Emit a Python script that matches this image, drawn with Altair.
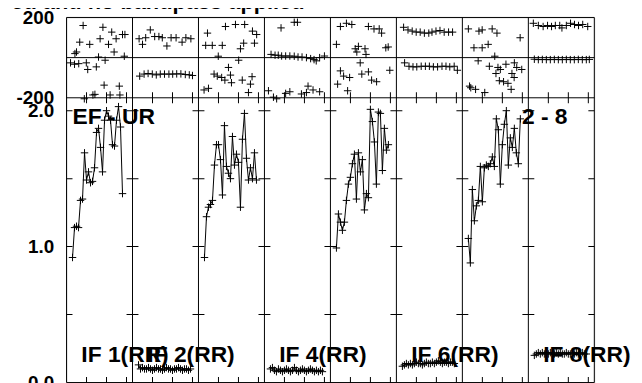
import altair as alt
import pandas as pd

# ---------------- texts ----------------
TITLE = "ed and no bandpass applied"
BASELINE_LEFT = "EF - UR"
BASELINE_RIGHT = "2 - 8"
IF_NAMES = ["IF 1(RR)", "IF 2(RR)", "IF 3(RR)", "IF 4(RR)",
            "IF 5(RR)", "IF 6(RR)", "IF 7(RR)", "IF 8(RR)"]
LABELLED_IFS = [1, 2, 4, 6, 8]

# ---------------- amplitude data (channel, amplitude) ----------------
CH_IF1 = list(range(3, 29))
AMP_IF1 = [0.92, 1.14, 1.15, 1.14, 1.34, 1.35, 1.69, 1.49, 1.55, 1.47, 1.48, 1.58, 1.84,
           1.87, 1.73, 1.55, 1.93, 2.00, 1.96, 1.93, 1.75, 1.74, 1.93, 2.03, 1.88, 1.39]
CH_STD = list(range(3, 30))
AMP_IF2 = [0.13, 0.10, 0.11, 0.10, 0.10, 0.11, 0.10, 0.09, 0.10, 0.11, 0.10, 0.10, 0.09, 0.10,
           0.11, 0.10, 0.10, 0.09, 0.10, 0.10, 0.11, 0.10, 0.09, 0.10, 0.10, 0.09, 0.10]
AMP_IF3 = [0.92, 1.22, 1.29, 1.31, 1.34, 1.60, 1.75, 1.75, 1.64, 1.38, 1.89, 1.59, 1.54, 1.50,
           1.81, 1.60, 1.68, 1.62, 1.29, 1.79, 1.98, 1.65, 1.49, 1.58, 1.50, 1.69, 1.49]
AMP_IF4 = [0.10, 0.11, 0.09, 0.08, 0.10, 0.09, 0.08, 0.09, 0.10, 0.09, 0.08, 0.09, 0.11, 0.09,
           0.08, 0.09, 0.10, 0.09, 0.08, 0.09, 0.10, 0.09, 0.08, 0.09, 0.08, 0.09, 0.08]
AMP_IF5 = [0.99, 1.24, 1.18, 1.12, 1.18, 1.34, 1.46, 1.51, 1.61, 1.68, 1.35, 1.69, 1.55, 1.64,
           1.27, 1.39, 1.36, 2.01, 1.92, 1.77, 1.46, 1.99, 1.98, 1.56, 1.87, 1.71, 1.75]
AMP_IF6 = [0.12, 0.13, 0.14, 0.13, 0.14, 0.13, 0.14, 0.15, 0.14, 0.14, 0.13, 0.14, 0.15, 0.14,
           0.14, 0.15, 0.14, 0.15, 0.16, 0.15, 0.14, 0.15, 0.15, 0.14, 0.15, 0.15, 0.14]
AMP_IF7 = [1.06, 0.88, 1.42, 1.19, 1.30, 1.34, 1.59, 1.33, 1.58, 1.60, 1.59, 1.61, 1.66, 1.59,
           1.94, 1.86, 1.46, 1.75, 1.90, 2.00, 1.60, 1.80, 1.73, 1.87, 1.69, 1.61, 1.94]
AMP_IF8 = [0.20, 0.21, 0.22, 0.21, 0.22, 0.21, 0.22, 0.21, 0.22, 0.21, 0.21, 0.22, 0.21, 0.22,
           0.21, 0.21, 0.22, 0.21, 0.21, 0.22, 0.21, 0.22, 0.21, 0.21, 0.22, 0.21, 0.21]

# ---------------- phase data (channel, degrees) ----------------
PH_CH_IF1 = [8.3, 18.2, 22.6, 28.0, 29.2, 6.6, 11.6, 16.8, 21.0, 24.8, 5.0, 4.2, 16.0, 23.8, 28.9,
             2.0, 4.0, 6.1, 9.9, 10.6, 14.9, 19.3, 18.8, 26.4, 13.2, 14.2, 8.9, 21.8, 26.7]
PH_IF1 = [160, 151, 127, 115, 115, 77, 66, 94, 66, 94, 28, 20, 3, 28, 7,
          -26, -33, -30, -26, -59, -46, -13, -137, -142, -186, -183, -205, -186, -186]
PH_CH_IF2 = [3.3, 5.0, 6.6, 8.9, 11.1, 13.2, 14.9, 17.2, 19.3, 21.8, 24.8, 26.7, 29.2,
             3.6, 5.8, 7.8, 9.9, 11.9, 13.9, 16.0, 18.2, 20.1, 22.1, 24.2, 26.4, 28.4, 30.0]
PH_IF2 = [94, 66, 99, 138, 105, 105, 99, 58, 99, 99, 77, 99, 94,
          -92, -82, -79, -82, -86, -82, -82, -82, -82, -81, -81, -84, -86, -89]
PH_CH_IF3 = [4.5, 13.5, 18.5, 23.1, 27.0, 29.1, 3.6, 6.9, 11.9, 22.6, 28.0, 21.0, 9.9, 20.1,
             15.0, 7.8, 9.4, 11.6, 13.2, 16.0, 16.5, 21.9, 26.0, 26.8, 25.0, 2.8, 5.0]
PH_IF3 = [122, 155, 165, 165, 132, 115, 61, 61, 61, 72, 72, 44, 7, -13,
          -49, -82, -92, -99, -112, -87, -125, -112, -132, -95, -174, -161, -153]
PH_CH_IF4 = [8.3, 14.9, 16.5,
             3.3, 5.3, 6.9, 8.6, 10.6, 12.7, 14.9, 16.8, 18.8, 21.0, 23.1, 24.8, 25.9, 27.6, 30.0,
             2.0, 4.5, 6.1, 10.6, 12.7, 18.5, 21.0, 21.8, 24.3, 27.6]
PH_IF4 = [148, 176, 176,
          16, 12, 12, 8, 8, 8, 7, 3, 3, 0, -5, -10, -16, 0, 8,
          -165, -197, -205, -178, -170, -181, -174, -142, -161, -170]
PH_CH_IF5 = [5.0, 8.0, 10.7, 19.0, 21.8, 24.4, 25.6, 3.0, 12.4, 14.0, 17.3, 13.2, 17.8,
             27.7, 28.9, 14.9, 5.0, 6.6, 9.6, 15.7, 19.0, 20.6, 23.1, 29.7, 3.6, 8.6]
PH_IF5 = [155, 171, 165, 155, 143, 143, 122, 66, 44, 56, 44, 28, 16,
          49, 53, -26, -66, -92, -99, -82, -71, -112, -120, -63, -132, -165]
PH_CH_IF6 = [3.6, 5.8, 7.9, 9.9, 11.9, 14.0, 16.2, 17.8, 19.8, 21.8, 23.9, 26.1, 28.1,
             4.1, 6.3, 8.3, 10.2, 12.4, 14.5, 16.5, 18.5, 20.6, 22.8, 24.8, 26.7, 28.9, 30.5]
PH_IF6 = [151, 138, 132, 127, 127, 122, 122, 127, 132, 135, 127, 127, 127,
          -26, -43, -46, -46, -43, -43, -43, -46, -46, -43, -43, -46, -43, -63]
PH_CH_IF7 = [3.0, 8.3, 9.9, 14.9, 17.3, 28.9, 5.8, 9.9, 12.9, 16.2, 7.9, 13.5, 17.8, 21.8, 16.8,
             19.0, 26.0, 27.2, 29.7, 24.8, 25.9, 3.6, 4.2, 18.5, 20.6, 22.8, 24.4, 6.6, 11.2]
PH_IF7 = [143, 132, 138, 143, 122, 99, 49, 49, 66, 7, -16, -43, -49, -33, -79,
          -59, -26, -49, -59, -79, -99, -142, -150, -115, -120, -128, -158, -158, -174]
PH_CH_IF8 = [2.5, 5.0, 7.4, 9.6, 11.6, 13.5, 15.7, 16.8, 19.0, 21.1, 23.1, 25.1, 27.2, 29.7,
             3.0, 5.0, 7.0, 9.0, 11.0, 13.0, 15.0, 17.0, 19.0, 21.0, 23.0, 25.0, 27.0, 29.0, 30.5]
PH_IF8 = [171, 160, 155, 160, 155, 160, 160, 148, 160, 171, 165, 160, 165, 155,
          -8, -10, -9, -10, -10, -9, -10, -10, -9, -10, -10, -9, -10, -10, -9]

# ---------------- axis / tick values ----------------
AMP_TICK_VALUES = [0.5, 1.0, 1.5, 2.0]
CHANNEL_TICK_VALUES = [10, 20, 30]
PHASE_LIMIT = 200

# ---------------- layout constants ----------------
N_IF = 8
PANEL_CH = 33           # channel span of one panel
AMP_TOP = 2.095         # top of the amplitude strip
PH_SPAN = 0.591         # height of the phase strip in amplitude units
Y_TOP = AMP_TOP + PH_SPAN
FONT = "Liberation Sans"

amp_sets = [(CH_IF1, AMP_IF1), (CH_STD, AMP_IF2), (CH_STD, AMP_IF3), (CH_STD, AMP_IF4),
            (CH_STD, AMP_IF5), (CH_STD, AMP_IF6), (CH_STD, AMP_IF7), (CH_STD, AMP_IF8)]
ph_sets = [(PH_CH_IF1, PH_IF1), (PH_CH_IF2, PH_IF2), (PH_CH_IF3, PH_IF3), (PH_CH_IF4, PH_IF4),
           (PH_CH_IF5, PH_IF5), (PH_CH_IF6, PH_IF6), (PH_CH_IF7, PH_IF7), (PH_CH_IF8, PH_IF8)]

amp_rows, ph_rows = [], []
for i, (chs, vals) in enumerate(amp_sets):
    for c, v in zip(chs, vals):
        amp_rows.append({"ifn": i + 1, "ch": c, "amp": v})
for i, (chs, vals) in enumerate(ph_sets):
    for c, v in zip(chs, vals):
        ph_rows.append({"ifn": i + 1, "ch": c, "ph": v})
amp_df = pd.DataFrame(amp_rows)
ph_df = pd.DataFrame(ph_rows)

X_EXPR = f"(datum.ifn - 1) * {PANEL_CH} + datum.ch"
PH_EXPR = f"{AMP_TOP} + (datum.ph + {PHASE_LIMIT}) / {2 * PHASE_LIMIT} * {PH_SPAN}"

xscale = alt.Scale(domain=[0, N_IF * PANEL_CH], nice=False, zero=False)
yscale = alt.Scale(domain=[0, Y_TOP], nice=False, zero=False)
yaxis = alt.Axis(
    values=[0, 1, 2, AMP_TOP, Y_TOP],
    labelExpr=f"datum.value > 2.5 ? '{PHASE_LIMIT}' : (datum.value > 2.05 ? '-{PHASE_LIMIT}' : format(datum.value, '.1f'))",
    domain=False, ticks=False, grid=False, title=None,
    labelFont=FONT, labelFontWeight="bold", labelFontSize=19, labelColor="black",
    labelPadding=13, labelOverlap=False, labelFlush=False, labelBound=False,
)


def X(field="xpos"):
    return alt.X(f"{field}:Q", scale=xscale, axis=None)


def Y(field="ypos"):
    return alt.Y(f"{field}:Q", scale=yscale, axis=yaxis)


PLUS = "M-1,0L1,0M0,-1L0,1"

amp_line = alt.Chart(amp_df).transform_calculate(xpos=X_EXPR, ypos="datum.amp").mark_line(
    color="black", strokeWidth=1).encode(x=X(), y=Y(), detail="ifn:N")
amp_pts = alt.Chart(amp_df).transform_calculate(xpos=X_EXPR, ypos="datum.amp").mark_point(
    shape=PLUS, size=56, filled=False, color="black", strokeWidth=1, opacity=1).encode(x=X(), y=Y())
ph_pts = alt.Chart(ph_df).transform_calculate(xpos=X_EXPR, ypos=PH_EXPR).mark_point(
    shape=PLUS, size=56, filled=False, color="black", strokeWidth=1, opacity=1).encode(x=X(), y=Y())

borders_df = pd.DataFrame({"xpos": [k * PANEL_CH for k in range(N_IF + 1)]})
vlines = alt.Chart(borders_df).mark_rule(color="black", strokeWidth=1).encode(x=X())

hlines_df = pd.DataFrame({"ypos": [0, AMP_TOP, AMP_TOP + PH_SPAN / 2, Y_TOP]})
hlines = alt.Chart(hlines_df).mark_rule(color="black", strokeWidth=1).encode(y=Y())

amp_tick_df = pd.DataFrame([{"xpos": k * PANEL_CH, "ypos": t}
                            for k in range(N_IF + 1) for t in AMP_TICK_VALUES])
amp_ticks = alt.Chart(amp_tick_df).mark_tick(
    orient="horizontal", size=12, thickness=1, color="black", clip=True, opacity=1
).encode(x=X(), y=Y())

ch_tick_df = pd.DataFrame([{"xpos": p * PANEL_CH + c, "ypos": yv}
                           for p in range(N_IF) for c in CHANNEL_TICK_VALUES for yv in [0, AMP_TOP]])
ch_ticks = alt.Chart(ch_tick_df).mark_tick(
    orient="vertical", size=11, thickness=1, color="black", clip=True, opacity=1
).encode(x=X(), y=Y())

lab_df = pd.DataFrame({"ifn": LABELLED_IFS, "txt": [IF_NAMES[i - 1] for i in LABELLED_IFS]})
if_labels = alt.Chart(lab_df).transform_calculate(
    xpos=f"(datum.ifn - 1) * {PANEL_CH} + 7.4", ypos="0.153"
).mark_text(align="left", baseline="alphabetic", font=FONT, fontWeight="bold",
            fontSize=23, color="black").encode(x=X(), y=Y(), text="txt:N")

bl_left = alt.Chart(pd.DataFrame({"t": [BASELINE_LEFT]})).transform_calculate(
    xpos="3.0", ypos="1.905"
).mark_text(align="left", baseline="alphabetic", font=FONT, fontWeight="bold",
            fontSize=23, color="black").encode(x=X(), y=Y(), text="t:N")
bl_right = alt.Chart(pd.DataFrame({"t": [BASELINE_RIGHT]})).transform_calculate(
    xpos="250.6", ypos="1.905"
).mark_text(align="right", baseline="alphabetic", font=FONT, fontWeight="bold",
            fontSize=23, color="black").encode(x=X(), y=Y(), text="t:N")

title = alt.Chart(pd.DataFrame({"t": [TITLE]})).mark_text(
    align="right", baseline="alphabetic", font=FONT, fontWeight="bold",
    fontSize=22, color="black"
).encode(x=alt.value(240), y=alt.value(-9), text="t:N")

chart = alt.layer(
    vlines, hlines, amp_ticks, ch_ticks, amp_line, amp_pts, ph_pts,
    if_labels, bl_left, bl_right, title
).properties(
    width=532, height=368,
    autosize=alt.AutoSizeParams(type="none"),
    padding={"left": 59, "top": 8, "right": 40, "bottom": 8},
).configure_view(stroke=None).configure(background="white")

chart.save("out.html", embed_options={"renderer": "svg", "actions": False})
